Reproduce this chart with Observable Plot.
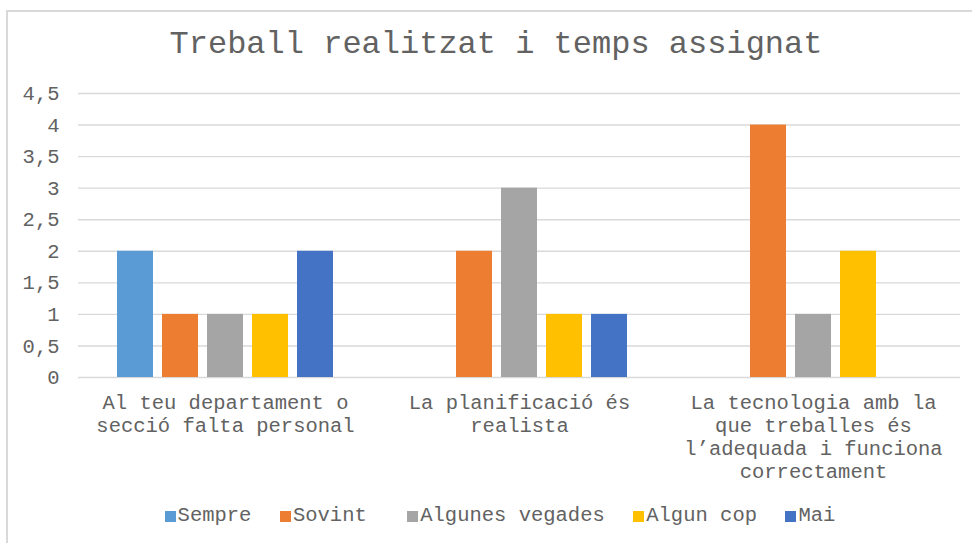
<!DOCTYPE html>
<html>
<head>
<meta charset="utf-8">
<script src="https://cdn.jsdelivr.net/npm/d3@7"></script>
<script src="https://cdn.jsdelivr.net/npm/@observablehq/plot@0.6"></script>
<style>
  html, body { margin: 0; padding: 0; background: #fff; overflow: hidden; }
  #page { position: relative; width: 972px; height: 543px; overflow: hidden; font-family: 'Liberation Mono', 'Courier New', monospace; color: #626262; }
  #frame { position: absolute; left: 6px; top: 10px; width: 1000px; height: 600px; border: 2px solid #d9d9d9; box-sizing: border-box; }
  #title { position: absolute; left: 0; width: 992px; top: 26px; text-align: center; font-size: 32px; line-height: 38px; }
  #chart { position: absolute; left: 0; top: 70px; }
  #legend { position: absolute; left: 0; width: 1000px; top: 503px; display: flex; justify-content: center; gap: 28.5px; font-size: 20.5px; line-height: 26px; }
  .item { display: flex; align-items: center; white-space: pre; }
  .sw { width: 11px; height: 11px; margin-right: 2px; }
</style>
</head>
<body>
<div id="page">
  <div id="frame"></div>
  <div id="title">Treball realitzat i temps assignat</div>
  <div id="chart"></div>
  <div id="legend"></div>
</div>
<script>
const categories = [
  "Al teu departament o secció falta personal",
  "La planificació és realista",
  "La tecnologia amb la que treballes és l’adequada i funciona correctament"
];
const categoryLabels = [
  "Al teu departament o\nsecció falta personal",
  "La planificació és\nrealista",
  "La tecnologia amb la\nque treballes és\nl’adequada i funciona\ncorrectament"
];
const series = ["Sempre", "Sovint", "Algunes vegades", "Algun cop", "Mai"];
const colors = ["#5B9BD5", "#ED7D31", "#A5A5A5", "#FFC000", "#4472C4"];
const sempre = [2, 0, 0];
const sovint = [1, 2, 4];
const algunesVegades = [1, 3, 1];
const algunCop = [1, 1, 2];
const mai = [2, 1, 0];
const yTicks = [0, 0.5, 1, 1.5, 2, 2.5, 3, 3.5, 4, 4.5];

const seriesValues = [sempre, sovint, algunesVegades, algunCop, mai];
const data = [];
categories.forEach((c, ci) => {
  series.forEach((s, si) => {
    data.push({cat: c, series: s, value: seriesValues[si][ci]});
  });
});

const chart = Plot.plot({
  width: 972,
  height: 417,
  marginLeft: 77,
  marginRight: 12,
  marginTop: 23,
  marginBottom: 110,
  style: {fontFamily: "'Liberation Mono', 'Courier New', monospace", fontSize: "20.5px", color: "#626262", background: "transparent"},
  fx: {domain: categories, padding: 0, label: null},
  x: {domain: series, paddingInner: 0.2, paddingOuter: 0.85, axis: null},
  y: {domain: [0, 4.5], label: null},
  color: {domain: series, range: colors},
  marks: [
    Plot.gridY(yTicks, {stroke: "#d9d9d9", strokeOpacity: 1, strokeWidth: 1.4}),
    Plot.barY(data, {fx: "cat", x: "series", y: "value", fill: "series"}),
    Plot.axisY(yTicks, {tickSize: 0, tickPadding: 19, tickFormat: d => String(d).replace(".", ","), label: null}),
    Plot.axisFx({anchor: "bottom", tickSize: 0, tickPadding: 15, lineHeight: 1.12, label: null,
      tickFormat: d => categoryLabels[categories.indexOf(d)]})
  ]
});
document.getElementById("chart").appendChild(chart);

const legend = document.getElementById("legend");
series.forEach((s, i) => {
  const item = document.createElement("div");
  item.className = "item";
  if (s === "Sovint") item.style.marginRight = "12px";
  const sw = document.createElement("span");
  sw.className = "sw";
  sw.style.background = colors[i];
  const t = document.createElement("span");
  t.textContent = s;
  item.appendChild(sw);
  item.appendChild(t);
  legend.appendChild(item);
});
</script>
</body>
</html>
